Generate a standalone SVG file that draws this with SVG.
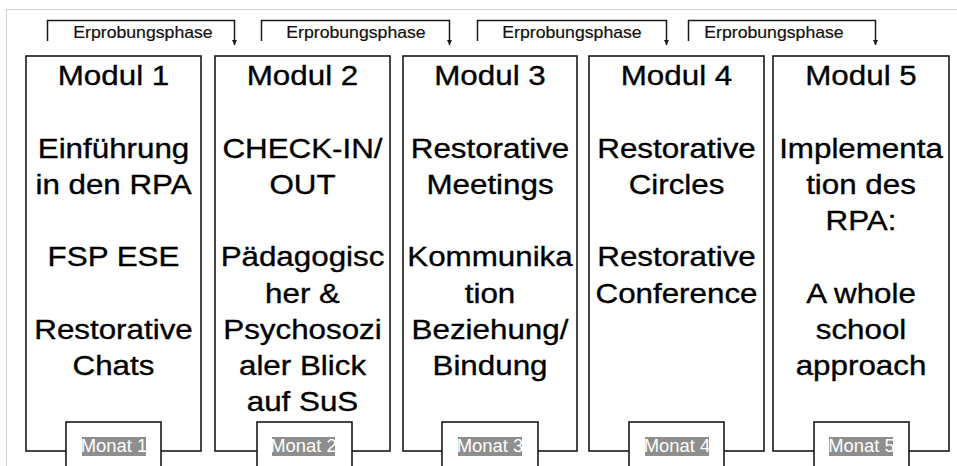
<svg xmlns="http://www.w3.org/2000/svg" width="957" height="466" viewBox="0 0 957 466">
<style>
.frame{fill:none;stroke:#cfcfcf;stroke-width:1}
.box{fill:#fff;stroke:#1a1a1a;stroke-width:1.6}
.br{fill:none;stroke:#1a1a1a;stroke-width:1.5}
.t{font-family:"Liberation Sans",Arial,sans-serif;font-size:28.5px;fill:#000;stroke:#000;stroke-width:0.35;text-anchor:middle}
.ph{font-family:"Liberation Sans",Arial,sans-serif;font-size:16.2px;fill:#111;stroke:#111;stroke-width:0.2;text-anchor:middle}
.mo{font-family:"Liberation Sans",Arial,sans-serif;font-size:17.5px;fill:#fff;text-anchor:middle}
.hl{fill:#8e8e8e}
</style>
<defs>
<marker id="ah" viewBox="0 0 10 10" refX="10" refY="5" markerWidth="5" markerHeight="5" orient="auto" markerUnits="userSpaceOnUse">
<path d="M0,0 L10,5 L0,10 z" fill="#1a1a1a"/>
</marker>
</defs>
<rect width="957" height="466" fill="#fff"/>
<path class="frame" d="M6.5,466 V9.5 H957"/>

<g id="connectors">
<path class="br" d="M47.5,41 V20.5 H234.5 V45" marker-end="url(#ah)"/>
<path class="br" d="M261.5,41 V20.5 H449.5 V45" marker-end="url(#ah)"/>
<path class="br" d="M477.5,41 V20.5 H666.5 V45" marker-end="url(#ah)"/>
<path class="br" d="M688.5,41 V20.5 H875.5 V45" marker-end="url(#ah)"/>
<g transform="translate(143,38.3) scale(1.09,1)"><text class="ph" x="0" y="0">Erprobungsphase</text></g>
<g transform="translate(356,38.3) scale(1.09,1)"><text class="ph" x="0" y="0">Erprobungsphase</text></g>
<g transform="translate(572,38.3) scale(1.09,1)"><text class="ph" x="0" y="0">Erprobungsphase</text></g>
<g transform="translate(774,38.3) scale(1.09,1)"><text class="ph" x="0" y="0">Erprobungsphase</text></g>
</g>

<g id="modul1">
<rect class="box" x="26" y="56" width="175" height="395"/>
<g transform="translate(113.5,0) scale(1.1,1)">
<text class="t" x="0" y="85.5">Modul 1</text>
<text class="t" x="0" y="157.9">Einführung</text>
<text class="t" x="0" y="194.1">in den RPA</text>
<text class="t" x="0" y="266.5">FSP ESE</text>
<text class="t" x="0" y="338.9">Restorative</text>
<text class="t" x="0" y="375.1">Chats</text>
</g>
<rect class="box" x="66" y="422" width="95" height="50"/>
<rect class="hl" x="82" y="437" width="64" height="19"/>
<g transform="translate(114,452.3) scale(1.05,1)"><text class="mo" x="0" y="0">Monat 1</text></g>
</g>

<g id="modul2">
<rect class="box" x="215" y="56" width="175" height="395"/>
<g transform="translate(302.5,0) scale(1.1,1)">
<text class="t" x="0" y="85.5">Modul 2</text>
<text class="t" x="0" y="157.9">CHECK-IN/</text>
<text class="t" x="0" y="194.1">OUT</text>
<text class="t" x="0" y="266.5">Pädagogisc</text>
<text class="t" x="0" y="302.7">her &amp;</text>
<text class="t" x="0" y="338.9">Psychosozi</text>
<text class="t" x="0" y="375.1">aler Blick</text>
<text class="t" x="0" y="411.3">auf SuS</text>
</g>
<rect class="box" x="257" y="422" width="95" height="50"/>
<rect class="hl" x="272" y="437" width="63" height="19"/>
<g transform="translate(303.5,452.3) scale(1.05,1)"><text class="mo" x="0" y="0">Monat 2</text></g>
</g>

<g id="modul3">
<rect class="box" x="403" y="56" width="174" height="395"/>
<g transform="translate(490,0) scale(1.1,1)">
<text class="t" x="0" y="85.5">Modul 3</text>
<text class="t" x="0" y="157.9">Restorative</text>
<text class="t" x="0" y="194.1">Meetings</text>
<text class="t" x="0" y="266.5">Kommunika</text>
<text class="t" x="0" y="302.7">tion</text>
<text class="t" x="0" y="338.9">Beziehung/</text>
<text class="t" x="0" y="375.1">Bindung</text>
</g>
<rect class="box" x="442" y="422" width="96" height="50"/>
<rect class="hl" x="458" y="437" width="64" height="19"/>
<g transform="translate(490,452.3) scale(1.05,1)"><text class="mo" x="0" y="0">Monat 3</text></g>
</g>

<g id="modul4">
<rect class="box" x="589" y="56" width="175" height="395"/>
<g transform="translate(676.5,0) scale(1.1,1)">
<text class="t" x="0" y="85.5">Modul 4</text>
<text class="t" x="0" y="157.9">Restorative</text>
<text class="t" x="0" y="194.1">Circles</text>
<text class="t" x="0" y="266.5">Restorative</text>
<text class="t" x="0" y="302.7">Conference</text>
</g>
<rect class="box" x="629" y="422" width="95" height="50"/>
<rect class="hl" x="645" y="437" width="64" height="19"/>
<g transform="translate(677,452.3) scale(1.05,1)"><text class="mo" x="0" y="0">Monat 4</text></g>
</g>

<g id="modul5">
<rect class="box" x="773" y="56" width="176" height="395"/>
<g transform="translate(861,0) scale(1.1,1)">
<text class="t" x="0" y="85.5">Modul 5</text>
<text class="t" x="0" y="157.9">Implementa</text>
<text class="t" x="0" y="194.1">tion des</text>
<text class="t" x="0" y="230.3">RPA:</text>
<text class="t" x="0" y="302.7">A whole</text>
<text class="t" x="0" y="338.9">school</text>
<text class="t" x="0" y="375.1">approach</text>
</g>
<rect class="box" x="814" y="422" width="95" height="50"/>
<rect class="hl" x="829" y="437" width="64" height="19"/>
<g transform="translate(861.5,452.3) scale(1.05,1)"><text class="mo" x="0" y="0">Monat 5</text></g>
</g>
</svg>
